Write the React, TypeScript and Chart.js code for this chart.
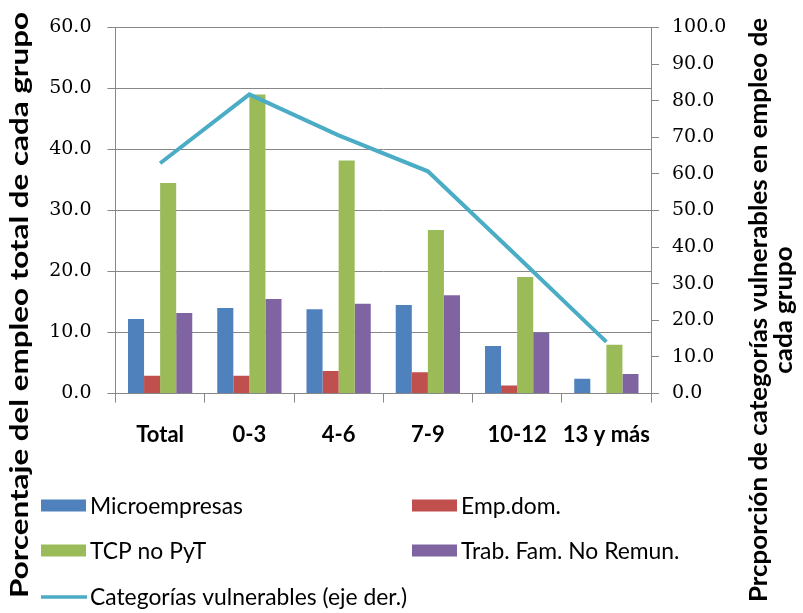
import React, { useEffect, useRef } from 'react';
import { Chart, registerables } from 'chart.js';

Chart.register(...registerables);

// ---------- data ----------
const categories = ['Total', '0-3', '4-6', '7-9', '10-12', '13 y más'];
const microempresas = [12.2, 14.0, 13.8, 14.5, 7.8, 2.4];
const empDom = [2.9, 2.9, 3.7, 3.5, 1.3, 0];
const tcpNoPyT = [34.5, 49.0, 38.2, 26.8, 19.1, 8.0];
const trabFamNoRemun = [13.2, 15.5, 14.7, 16.1, 10.0, 3.2];
const categoriasVulnerables = [62.9, 81.7, 70.5, 60.7, 37.5, 14.1];

const seriesLabels = [
  'Microempresas',
  'Emp.dom.',
  'TCP no PyT',
  'Trab. Fam. No Remun.',
  'Categorías vulnerables (eje der.)',
];
const leftAxisTitle = 'Porcentaje del empleo total de cada grupo';
const rightAxisTitle = ['Prcporción de categorías vulnerables en empleo de', 'cada grupo'];

const leftMin = 0;
const leftMax = 60;
const leftStep = 10;
const rightMin = 0;
const rightMax = 100;
const rightStep = 10;

// ---------- styles ----------
const seriesColors = ['#4F81BD', '#C0504D', '#9BBB59', '#8064A2', '#4BACC6'];
const GRID = '#878787';
const W = 803;
const H = 613;
const AREA_LEFT = 115.5;
const AREA_RIGHT = 651;
const AREA_TOP = 20.5;
const AREA_BOTTOM = 393.5;

const overlayPlugin = {
  id: 'overlay',
  afterDraw(chart: any) {
    const ctx: CanvasRenderingContext2D = chart.ctx;
    ctx.save();
    ctx.fillStyle = '#000';
    ctx.textAlign = 'center';
    ctx.textBaseline = 'middle';

    // left axis title
    ctx.font = 'bold 24px Lato';
    const lw = ctx.measureText(leftAxisTitle).width;
    ctx.save();
    ctx.translate(20, 305);
    ctx.rotate(-Math.PI / 2);
    ctx.scale(586 / lw, 1);
    ctx.fillText(leftAxisTitle, 0, 0);
    ctx.restore();

    // right axis title (two lines)
    ctx.font = 'bold 24px Lato';
    const rw = ctx.measureText(rightAxisTitle[0]).width;
    const rs = 584 / rw;
    const rx = [759, 784];
    rightAxisTitle.forEach((line, i) => {
      ctx.save();
      ctx.translate(rx[i], 310);
      ctx.rotate(-Math.PI / 2);
      ctx.scale(rs, 1);
      ctx.fillText(line, 0, 0);
      ctx.restore();
    });

    // legend
    ctx.font = '24px Lato';
    const ls = 153 / ctx.measureText(seriesLabels[0]).width;
    const cols = [41, 412];
    const rows = [505.5, 550.5, 596];
    chart.data.datasets.forEach((ds: any, i: number) => {
      const col = i < 4 ? i % 2 : 0;
      const row = Math.floor(i / 2);
      const bx = cols[col];
      const by = rows[row];
      if (ds.type === 'line') {
        ctx.strokeStyle = ds.borderColor;
        ctx.lineWidth = 3.5;
        ctx.beginPath();
        ctx.moveTo(bx, by + 1);
        ctx.lineTo(bx + 46, by + 1);
        ctx.stroke();
      } else {
        ctx.fillStyle = ds.backgroundColor;
        ctx.fillRect(bx, by - 6, 45, 12);
      }
      ctx.fillStyle = '#000';
      ctx.textAlign = 'left';
      ctx.save();
      ctx.translate(bx + 49, by + 1);
      ctx.scale(ls, 1);
      ctx.fillText(ds.label, 0, 0);
      ctx.restore();
    });
    ctx.restore();
  },
};

export default function App() {
  const canvasRef = useRef<HTMLCanvasElement | null>(null);

  useEffect(() => {
    if (!canvasRef.current) return;
    const barSeries = [microempresas, empDom, tcpNoPyT, trabFamNoRemun];
    const datasets: any[] = barSeries.map((vals, i) => ({
      type: 'bar',
      label: seriesLabels[i],
      data: vals,
      backgroundColor: seriesColors[i],
      borderWidth: 0,
      yAxisID: 'y',
      order: 2,
      categoryPercentage: 0.72,
      barPercentage: 1,
    }));
    datasets.push({
      type: 'line',
      label: seriesLabels[4],
      data: categoriasVulnerables,
      borderColor: seriesColors[4],
      backgroundColor: seriesColors[4],
      borderWidth: 4,
      pointRadius: 0,
      tension: 0,
      yAxisID: 'y1',
      order: 1,
    });

    const chart = new Chart(canvasRef.current, {
      type: 'bar',
      data: { labels: categories, datasets },
      options: {
        animation: false,
        responsive: true,
        maintainAspectRatio: false,
        devicePixelRatio: 1,
        layout: { padding: { left: 0, right: 0, top: AREA_TOP, bottom: 0 } },
        plugins: {
          legend: { display: false },
          tooltip: { enabled: false },
          title: { display: false },
        },
        scales: {
          x: {
            offset: true,
            grid: {
              offset: true,
              drawOnChartArea: false,
              drawTicks: true,
              tickLength: 9,
              color: GRID,
            },
            border: { display: true, color: GRID },
            ticks: {
              padding: 19,
              color: '#000',
              font: { family: 'Lato', size: 22, weight: 'bold' },
              maxRotation: 0,
              autoSkip: false,
            },
            afterFit: (s: any) => {
              s.height = H - AREA_BOTTOM;
            },
          },
          y: {
            position: 'left',
            min: leftMin,
            max: leftMax,
            grid: { color: GRID, tickLength: 8, drawTicks: true },
            border: { display: true, color: GRID },
            ticks: {
              stepSize: leftStep,
              padding: 16,
              color: '#000',
              font: { family: 'DejaVu Serif', size: 19 },
              callback: (v: any) => Number(v).toFixed(1),
            },
            afterFit: (s: any) => {
              s.width = AREA_LEFT;
            },
          },
          y1: {
            position: 'right',
            min: rightMin,
            max: rightMax,
            grid: { drawOnChartArea: false, color: GRID, tickLength: 8, drawTicks: true },
            border: { display: true, color: GRID },
            ticks: {
              stepSize: rightStep,
              padding: 13,
              color: '#000',
              font: { family: 'DejaVu Serif', size: 19 },
              callback: (v: any) => Number(v).toFixed(1),
            },
            afterFit: (s: any) => {
              s.width = W - AREA_RIGHT;
            },
          },
        },
      },
      plugins: [overlayPlugin],
    });
    return () => chart.destroy();
  }, []);

  return (
    <div
      style={{
        position: 'absolute',
        left: 0,
        top: 0,
        width: W,
        height: H,
        background: '#fff',
      }}
    >
      <canvas ref={canvasRef} />
    </div>
  );
}
